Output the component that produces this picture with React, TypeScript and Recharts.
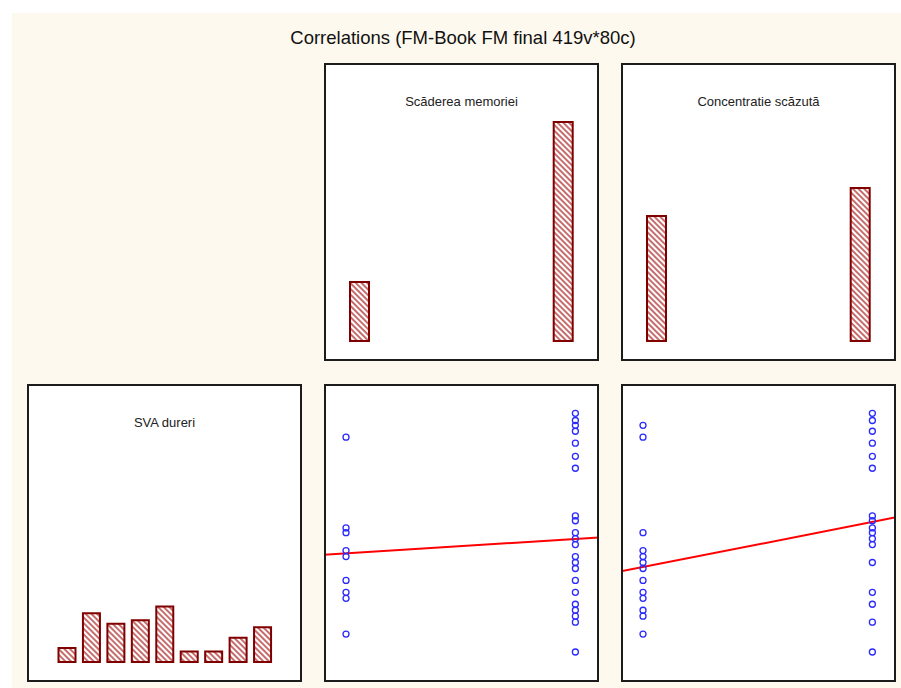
import React from "react";
import { Bar, BarChart, ReferenceLine, Scatter, ScatterChart, XAxis, YAxis } from "recharts";

const TITLE = "Correlations (FM-Book FM final 419v*80c)";

// histogram: Scăderea memoriei (0 = nu, 1 = da)
const memoryLevels = [0, 1];
const memoryCounts = [17, 63];

// histogram: Concentratie scăzută
const concentrationLevels = [0, 1];
const concentrationCounts = [36, 44];

// histogram: SVA dureri
const svaBins = ["1", "2", "3", "4", "5", "6", "7", "8", "9"];
const svaCounts = [4, 14, 11, 12, 16, 3, 3, 7, 10];

// SVA dureri vs memory / concentration (visible points)
const svaMemoryNo = [9, 5.2, 5, 4.25, 4, 3, 2.5, 2.25, 0.75];
const svaMemoryYes = [10, 9.7, 9.5, 9.25, 8.75, 8.2, 7.7, 5.7, 5.5, 5, 4.75, 4.5, 4, 3.75, 3.5, 3, 2.5, 2, 1.75, 1.5, 1.25, 0];
const svaConcNo = [9.5, 9, 5, 4.25, 4, 3.75, 3.5, 3, 2.5, 2.25, 1.75, 1.5, 0.75];
const svaConcYes = [10, 9.7, 9.25, 8.75, 8.2, 7.7, 5.7, 5.5, 5.2, 5, 4.75, 4.5, 3.75, 2.5, 2, 1.25, 0];

// fitted lines: [intercept, slope]
const memoryFit = [4.13, 0.61];
const concentrationFit = [3.56, 1.89];

const PW = 275;
const PH = 298;
const FONT = "'Liberation Sans', Arial, sans-serif";
const X_DOM: [number, number] = [-0.096, 1.103];
const Y_DOM: [number, number] = [-1.257, 11.23];
const BAR_X_DOM: [number, number] = [-0.176, 1.174];
const COUNT_DOM: [number, number] = [-5.76, 80];

function Panel({ left, top, title, children }: { left: number; top: number; title?: string; children: React.ReactNode }) {
  return (
    <div style={{ position: "absolute", left, top, width: PW, height: PH, background: "#fff" }}>
      {children}
      {title && (
        <div
          style={{
            position: "absolute",
            left: 0,
            top: 30,
            width: PW,
            textAlign: "center",
            fontFamily: FONT,
            fontSize: 13,
            lineHeight: "17px",
            color: "#222",
          }}
        >
          {title}
        </div>
      )}
      <div
        style={{
          position: "absolute",
          inset: 0,
          border: "2px solid #1c1c1c",
          boxSizing: "border-box",
          pointerEvents: "none",
        }}
      />
    </div>
  );
}

function TwoBarHist({ levels, counts }: { levels: number[]; counts: number[] }) {
  const data = levels.map((x, i) => ({ x, n: counts[i] }));
  return (
    <BarChart width={PW} height={PH} data={data} margin={{ top: 0, right: 0, bottom: 0, left: 0 }}>
      <XAxis type="number" dataKey="x" domain={BAR_X_DOM} hide allowDataOverflow />
      <YAxis type="number" domain={COUNT_DOM} hide allowDataOverflow />
      <Bar dataKey="n" barSize={19} fill="url(#hatch)" stroke="#800000" strokeWidth={2} isAnimationActive={false} />
    </BarChart>
  );
}

function Dot(p: any) {
  return <circle cx={p.cx} cy={p.cy} r={3} fill="none" stroke="#2a2aff" strokeWidth={1.3} />;
}

function ScatterPanel({ no, yes, fit }: { no: number[]; yes: number[]; fit: number[] }) {
  const data = [...no.map((y) => ({ x: 0, y })), ...yes.map((y) => ({ x: 1, y }))];
  const [a, b] = fit;
  return (
    <ScatterChart width={PW} height={PH} margin={{ top: 0, right: 0, bottom: 0, left: 0 }}>
      <XAxis type="number" dataKey="x" domain={X_DOM} hide allowDataOverflow />
      <YAxis type="number" dataKey="y" domain={Y_DOM} hide allowDataOverflow />
      <Scatter data={data} shape={Dot} isAnimationActive={false} />
      <ReferenceLine
        segment={[
          { x: X_DOM[0], y: a + b * X_DOM[0] },
          { x: X_DOM[1], y: a + b * X_DOM[1] },
        ]}
        stroke="#ff0000"
        strokeWidth={2}
      />
    </ScatterChart>
  );
}

export default function App() {
  const svaData = svaBins.map((bin, i) => ({ bin, n: svaCounts[i] }));
  return (
    <div style={{ position: "absolute", left: 0, top: 0, width: 901, height: 688, background: "#fff", overflow: "hidden" }}>
      <svg width={0} height={0} style={{ position: "absolute" }}>
        <defs>
          <pattern id="hatch" width={4} height={4} patternUnits="userSpaceOnUse" patternTransform="rotate(45)">
            <rect width={4} height={4} fill="#fff" />
            <line x1={0} y1={1} x2={4} y2={1} stroke="#b84848" strokeWidth={1.6} />
          </pattern>
        </defs>
      </svg>
      <div style={{ position: "absolute", left: 12, top: 13, width: 889, height: 675, background: "#fef9ef" }} />
      <div
        style={{
          position: "absolute",
          left: 0,
          top: 27,
          width: 926,
          textAlign: "center",
          fontFamily: FONT,
          fontSize: 18.5,
          lineHeight: "22px",
          color: "#111",
        }}
      >
        {TITLE}
      </div>

      <Panel left={324} top={63} title="Scăderea memoriei">
        <TwoBarHist levels={memoryLevels} counts={memoryCounts} />
      </Panel>
      <Panel left={621} top={63} title="Concentratie scăzută">
        <TwoBarHist levels={concentrationLevels} counts={concentrationCounts} />
      </Panel>

      <Panel left={27} top={384} title="SVA dureri">
        <BarChart width={PW} height={PH} data={svaData} margin={{ top: 0, right: 27.5, bottom: 0, left: 27.5 }}>
          <XAxis dataKey="bin" hide />
          <YAxis type="number" domain={COUNT_DOM} hide allowDataOverflow />
          <Bar dataKey="n" barSize={17} fill="url(#hatch)" stroke="#800000" strokeWidth={2} isAnimationActive={false} />
        </BarChart>
      </Panel>
      <Panel left={324} top={384}>
        <ScatterPanel no={svaMemoryNo} yes={svaMemoryYes} fit={memoryFit} />
      </Panel>
      <Panel left={621} top={384}>
        <ScatterPanel no={svaConcNo} yes={svaConcYes} fit={concentrationFit} />
      </Panel>
    </div>
  );
}
